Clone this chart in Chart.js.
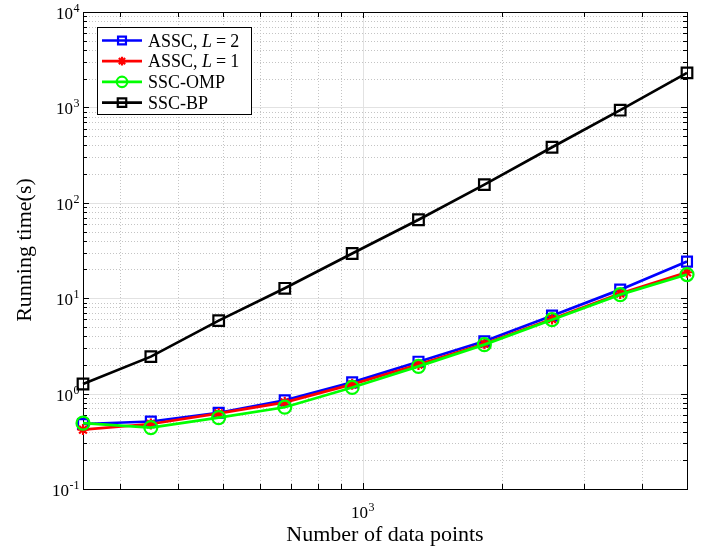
<!DOCTYPE html>
<html>
<head>
<meta charset="utf-8">
<script src="https://cdn.jsdelivr.net/npm/chart.js@4.4.1/dist/chart.umd.min.js"></script>
<style>
  body { margin: 0; background: #fff; }
  canvas { display: block; }
</style>
</head>
<body>
<canvas id="grafico" width="713" height="549"></canvas>
<script>
// number of data points (x) and running times in seconds (y)
const dataPoints = [250, 350, 490, 680, 950, 1320, 1830, 2560, 3590, 5000];
const asscL2 = [0.48, 0.51, 0.63, 0.85, 1.31, 2.16, 3.53, 6.56, 12.3, 24.2];
const asscL1 = [0.42, 0.48, 0.62, 0.81, 1.25, 2.02, 3.33, 6.05, 11.2, 18.7];
const sscOmp = [0.49, 0.44, 0.56, 0.72, 1.16, 1.93, 3.26, 5.96, 10.9, 17.7];
const sscBp = [1.26, 2.44, 5.82, 12.7, 29.4, 66.4, 155, 382, 935, 2300];

const seriesNames = ['ASSC, L = 2', 'ASSC, L = 1', 'SSC-OMP', 'SSC-BP'];
const xMajorTicks = [1000];
const xMinorTicks = [300, 400, 500, 600, 700, 800, 900, 2000, 3000, 4000];
const yDecades = [-1, 0, 1, 2, 3, 4];

const SERIF = '"Liberation Serif", "DejaVu Serif", serif';

function puntos(values) {
    return values.map((v, i) => ({ x: dataPoints[i], y: v }));
}

// draws "10" with a superscript exponent, align = 'right' or 'center'
function drawPower(ctx, exp, x, y, align) {
    ctx.save();
    ctx.fillStyle = '#000';
    ctx.textBaseline = 'alphabetic';
    ctx.textAlign = 'left';
    ctx.font = '17px ' + SERIF;
    const wBase = ctx.measureText('10').width;
    ctx.font = '12px ' + SERIF;
    const wExp = ctx.measureText(exp).width;
    let left = align === 'right' ? x - wBase - wExp : x - (wBase + wExp) / 2;
    ctx.font = '17px ' + SERIF;
    ctx.fillText('10', left, y);
    ctx.font = '12px ' + SERIF;
    ctx.fillText(exp, left + wBase + 0.5, y - 7);
    ctx.restore();
}

// label text with the variable L in italics and math spacing round "="
function drawLabel(ctx, text, x, y) {
    const parts = text.replace(' = ', '\u2009=\u2009').split(/(\bL\b|\u2009=\u2009)/);
    let cx = x;
    parts.forEach(p => {
        if (!p) return;
        if (p === '\u2009=\u2009') {
            ctx.font = '18px ' + SERIF;
            cx += 4;
            ctx.fillText('=', cx, y);
            cx += ctx.measureText('=').width + 4;
            return;
        }
        ctx.font = (p === 'L' ? 'italic ' : '') + '18px ' + SERIF;
        ctx.fillText(p, cx, y);
        cx += ctx.measureText(p).width;
    });
}

const fondoPlugin = {
    id: 'fondo',
    beforeDatasetsDraw(chart) {
        const { ctx, chartArea: a, scales } = chart;
        const xs = scales.x, ys = scales.y;
        ctx.save();
        ctx.lineWidth = 1;
        // minor grid (dotted)
        ctx.strokeStyle = '#c4c4c4';
        ctx.setLineDash([1, 2]);
        xMinorTicks.forEach(v => {
            const px = Math.round(xs.getPixelForValue(v)) + 0.5;
            ctx.beginPath(); ctx.moveTo(px, a.top); ctx.lineTo(px, a.bottom); ctx.stroke();
        });
        yDecades.forEach(d => {
            for (let m = 2; m <= 9; m++) {
                const v = m * Math.pow(10, d);
                if (v > ys.max) continue;
                const py = Math.round(ys.getPixelForValue(v)) + 0.5;
                ctx.beginPath(); ctx.moveTo(a.left, py); ctx.lineTo(a.right, py); ctx.stroke();
            }
        });
        // major grid (solid)
        ctx.setLineDash([]);
        ctx.strokeStyle = '#e2e2e2';
        xMajorTicks.forEach(v => {
            const px = Math.round(xs.getPixelForValue(v)) + 0.5;
            ctx.beginPath(); ctx.moveTo(px, a.top); ctx.lineTo(px, a.bottom); ctx.stroke();
        });
        yDecades.forEach(d => {
            const py = Math.round(ys.getPixelForValue(Math.pow(10, d))) + 0.5;
            ctx.beginPath(); ctx.moveTo(a.left, py); ctx.lineTo(a.right, py); ctx.stroke();
        });
        // box
        ctx.strokeStyle = '#000';
        ctx.strokeRect(a.left + 0.5, a.top + 0.5, a.right - a.left, a.bottom - a.top);
        // tick marks inside, on all four sides
        const tick = (px, len) => {
            ctx.beginPath();
            ctx.moveTo(px, a.bottom); ctx.lineTo(px, a.bottom - len);
            ctx.moveTo(px, a.top); ctx.lineTo(px, a.top + len);
            ctx.stroke();
        };
        xMajorTicks.forEach(v => tick(Math.round(xs.getPixelForValue(v)) + 0.5, 6));
        xMinorTicks.forEach(v => tick(Math.round(xs.getPixelForValue(v)) + 0.5, 5));
        const ytick = (py, len) => {
            ctx.beginPath();
            ctx.moveTo(a.left, py); ctx.lineTo(a.left + len, py);
            ctx.moveTo(a.right, py); ctx.lineTo(a.right - len, py);
            ctx.stroke();
        };
        yDecades.forEach(d => {
            ytick(Math.round(ys.getPixelForValue(Math.pow(10, d))) + 0.5, 6);
            for (let m = 2; m <= 9; m++) {
                const v = m * Math.pow(10, d);
                if (v > ys.max) continue;
                ytick(Math.round(ys.getPixelForValue(v)) + 0.5, 4);
            }
        });
        ctx.restore();
    },
    afterDraw(chart) {
        const { ctx, chartArea: a, scales } = chart;
        const xs = scales.x, ys = scales.y;
        // tick labels
        yDecades.forEach(d => {
            drawPower(ctx, String(d), a.left - 4, ys.getPixelForValue(Math.pow(10, d)) + 7, 'right');
        });
        xMajorTicks.forEach(v => {
            drawPower(ctx, String(Math.round(Math.log10(v))), xs.getPixelForValue(v), a.bottom + 29, 'center');
        });
        // axis titles
        ctx.save();
        ctx.fillStyle = '#000';
        ctx.font = '22px ' + SERIF;
        ctx.textAlign = 'center';
        ctx.textBaseline = 'alphabetic';
        ctx.fillText('Number of data points', (a.left + a.right) / 2, 541);
        ctx.translate(31, 250);
        ctx.rotate(-Math.PI / 2);
        ctx.fillText('Running time(s)', 0, 0);
        ctx.restore();

        // legend box
        ctx.save();
        const bx = 97, by = 27, bw = 154, bh = 87;
        ctx.fillStyle = '#fff';
        ctx.fillRect(bx, by, bw, bh);
        ctx.strokeStyle = '#000';
        ctx.lineWidth = 1;
        ctx.strokeRect(bx + 0.5, by + 0.5, bw, bh);
        chart.data.datasets.forEach((ds, i) => {
            const ry = 40.5 + i * 20.7;
            ctx.strokeStyle = ds.borderColor;
            ctx.lineWidth = ds.borderWidth;
            ctx.beginPath(); ctx.moveTo(102, ry); ctx.lineTo(142, ry); ctx.stroke();
            ctx.fillStyle = 'rgba(0,0,0,0)';
            ctx.lineWidth = ds.pointBorderWidth;
            Chart.helpers.drawPoint(ctx, {
                pointStyle: ds.pointStyle,
                radius: ds.pointRadius * 0.8,
                borderWidth: ds.pointBorderWidth,
                rotation: 0
            }, 122, ry);
            ctx.fillStyle = '#000';
            ctx.textAlign = 'left';
            ctx.textBaseline = 'alphabetic';
            drawLabel(ctx, ds.label, 148, ry + 6);
        });
        ctx.restore();
    }
};

function serie(label, values, color, style, radius, order) {
    return {
        label: label,
        data: puntos(values),
        borderColor: color,
        backgroundColor: 'transparent',
        borderWidth: 2.7,
        pointStyle: style,
        pointRadius: radius,
        pointHoverRadius: radius,
        pointBorderColor: color,
        pointBackgroundColor: 'transparent',
        pointBorderWidth: 2.2,
        tension: 0,
        clip: false,
        order: order
    };
}

const ctx = document.getElementById('grafico').getContext('2d');
new Chart(ctx, {
    type: 'line',
    data: {
        datasets: [
            serie(seriesNames[0], asscL2, '#0000ff', 'rect', 7, 4),
            serie(seriesNames[1], asscL1, '#ff0000', 'star', 5.5, 3),
            serie(seriesNames[2], sscOmp, '#00ff00', 'circle', 6.5, 2),
            serie(seriesNames[3], sscBp, '#000000', 'rect', 7.5, 1)
        ]
    },
    options: {
        responsive: false,
        animation: false,
        devicePixelRatio: 1,
        layout: { padding: { left: 83, right: 26, top: 12, bottom: 60 } },
        plugins: { legend: { display: false }, tooltip: { enabled: false } },
        scales: {
            x: { type: 'logarithmic', min: 250, max: 5000, display: false },
            y: { type: 'logarithmic', min: 0.1, max: 10000, display: false }
        }
    },
    plugins: [fondoPlugin]
});
</script>
</body>
</html>
